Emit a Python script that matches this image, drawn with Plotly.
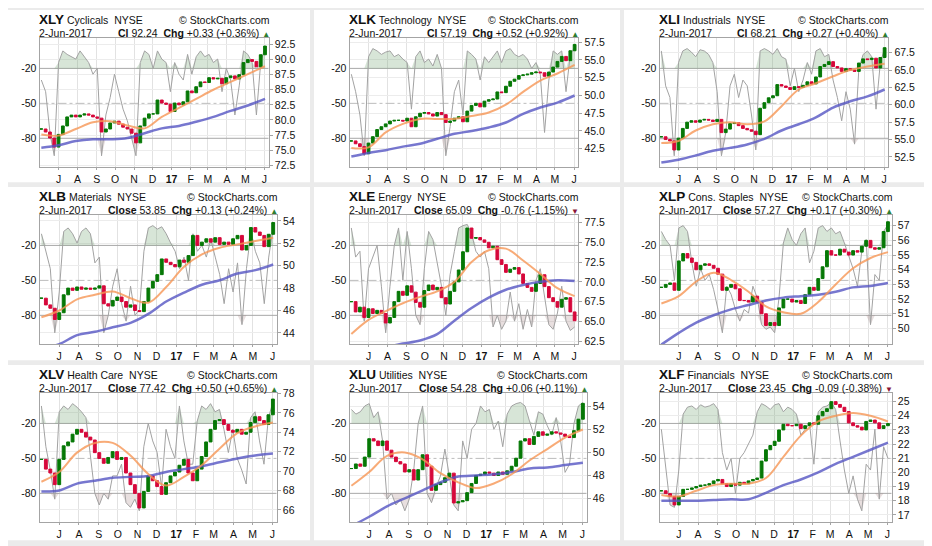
import pandas as pd
import plotly.graph_objects as go

# weekly sampling of the daily charts (Friday closes)
WEEKS = pd.date_range("2016-06-03", "2017-06-02", freq="W-FRI")
MA_DATES = WEEKS[::4]
MONTHS = pd.date_range("2016-07-01", "2017-06-01", freq="MS")
MONTH_LABELS = ["J", "A", "S", "O", "N", "D", "<b>17</b>", "F", "M", "A", "M", "J"]

TICKERS = ["XLY", "XLK", "XLI", "XLB", "XLE", "XLP", "XLV", "XLU", "XLF"]
NAMES = ["Cyclicals", "Technology", "Industrials", "Materials", "Energy",
         "Cons. Staples", "Health Care", "Utilities", "Financials"]
LAST_LABEL = ["Cl", "Cl", "Cl", "Close", "Close", "Close", "Close", "Close", "Close"]
LAST = ["92.24", "57.19", "68.21", "53.85", "65.09", "57.27", "77.42", "54.28", "23.45"]
CHG = ["+0.33 (+0.36%)", "+0.52 (+0.92%)", "+0.27 (+0.40%)", "+0.13 (+0.24%)",
       "-0.76 (-1.15%)", "+0.17 (+0.30%)", "+0.50 (+0.65%)", "+0.06 (+0.11%)",
       "-0.09 (-0.38%)"]

XLY_CLOSE = [78.5, 78.0, 77.0, 75.5, 77.6, 79.0, 80.5, 80.8, 80.5, 80.8,
             81.0, 80.8, 80.5, 80.3, 78.0, 78.5, 79.5, 79.8, 79.3, 78.8,
             78.5, 77.8, 76.2, 79.0, 80.3, 81.0, 81.0, 83.3, 82.8, 82.6,
             81.4, 82.8, 82.5, 83.0, 84.8, 84.5, 85.5, 86.3, 86.2, 87.0,
             86.8, 86.9, 86.0, 87.0, 87.3, 86.8, 87.5, 89.5, 90.0, 89.7,
             88.8, 90.8, 92.24]
XLY_WR = [-30, -40, -75, -95, -15, -5, -8, -10, -12, -5,
          -10, -15, -25, -20, -95, -60, -45, -25, -40, -55,
          -65, -80, -95, -15, -5, -8, -20, -5, -12, -15,
          -40, -15, -25, -30, -8, -25, -10, -5, -10, -8,
          -15, -12, -40, -20, -30, -60, -35, -5, -8, -15,
          -60, -15, -2]
XLY_MA50 = [77.6, 77.4, 78.5, 79.6, 79.8, 79.1, 78.6, 80.5, 82.0, 83.5, 85.0, 86.3, 87.6, 88.9]
XLY_MA200 = [75.4, 75.8, 76.5, 76.8, 76.8, 77.0, 77.8, 78.6, 79.0, 79.7, 80.5, 81.5, 82.4, 83.5]
XLY_TICKS = [72.5, 75.0, 77.5, 80.0, 82.5, 85.0, 87.5, 90.0, 92.5]

XLK_CLOSE = [43.6, 43.2, 42.8, 41.8, 43.3, 44.2, 45.2, 45.6, 46.0, 46.4,
             46.5, 46.5, 46.4, 46.8, 45.6, 47.0, 47.5, 47.6, 47.4, 47.1,
             47.6, 47.3, 46.2, 46.4, 46.8, 47.0, 46.3, 47.8, 48.6, 48.9,
             48.4, 49.2, 49.4, 49.5, 50.5, 50.4, 51.3, 52.0, 52.3, 52.8,
             52.9, 53.0, 53.2, 53.3, 53.2, 52.7, 53.3, 54.0, 54.8, 55.5,
             54.9, 56.3, 57.19]
XLK_WR = [-25, -40, -60, -95, -10, -3, -5, -8, -6, -5,
          -10, -8, -12, -15, -55, -10, -5, -15, -12, -18,
          -8, -20, -95, -70, -40, -30, -60, -5, -8, -12,
          -30, -10, -15, -10, -5, -15, -5, -3, -8, -10,
          -8, -12, -20, -15, -25, -75, -30, -5, -8, -5,
          -40, -8, -2]
XLK_MA50 = [42.6, 42.7, 44.8, 46.0, 46.7, 46.7, 46.7, 47.1, 47.6, 48.7, 50.5, 52.1, 53.1, 54.3]
XLK_MA200 = [41.4, 41.9, 42.3, 42.8, 43.2, 43.9, 44.6, 45.0, 45.5, 46.2, 47.4, 48.3, 49.0, 50.0]
XLK_TICKS = [42.5, 45.0, 47.5, 50.0, 52.5, 55.0, 57.5]

XLI_CLOSE = [55.4, 55.0, 54.8, 53.5, 55.2, 56.6, 57.5, 57.7, 57.5, 57.8,
             57.9, 57.8, 57.6, 57.9, 56.0, 56.5, 57.3, 57.4, 57.0, 56.6,
             56.4, 56.2, 55.7, 59.5, 60.3, 61.0, 61.3, 62.9, 62.7, 62.5,
             62.2, 62.6, 62.5, 62.8, 63.3, 63.0, 64.0, 65.5, 65.8, 66.2,
             65.5, 65.3, 64.8, 65.2, 65.0, 64.8, 66.0, 66.6, 66.5, 66.7,
             65.3, 66.8, 68.21]
XLI_WR = [-5, -35, -45, -95, -15, -5, -3, -6, -10, -4,
          -5, -8, -15, -40, -95, -75, -35, -25, -45, -30,
          -35, -60, -90, -5, -3, -5, -8, -3, -10, -12,
          -35, -20, -40, -30, -15, -25, -5, -3, -10, -8,
          -30, -45, -65, -40, -55, -85, -20, -8, -5, -10,
          -55, -15, -3]
XLI_MA50 = [54.5, 54.8, 56.3, 57.2, 57.5, 57.2, 57.6, 59.8, 62.2, 63.1, 64.1, 65.0, 65.5, 65.9]
XLI_MA200 = [51.7, 52.1, 52.7, 53.4, 53.8, 54.3, 55.1, 56.3, 57.2, 58.2, 59.6, 60.5, 61.2, 62.2]
XLI_TICKS = [52.5, 55.0, 57.5, 60.0, 62.5, 65.0, 67.5]

XLB_CLOSE = [47.1, 46.5, 46.2, 45.2, 45.8, 47.4, 48.0, 47.8, 48.1, 47.9,
             48.0, 47.9, 48.0, 48.2, 46.6, 46.4, 46.9, 47.2, 46.8, 46.3,
             46.5, 46.0, 45.9, 46.8, 48.0, 48.6, 49.2, 50.6, 50.3, 50.1,
             49.9, 50.5, 50.3, 50.9, 52.7, 51.8, 52.1, 52.4, 52.1, 52.5,
             51.9, 52.1, 51.9, 52.4, 52.7, 51.4, 51.8, 53.4, 53.0, 52.7,
             51.7, 52.8, 53.85]
XLB_WR = [-10, -25, -40, -95, -60, -8, -5, -10, -18, -8,
          -5, -10, -35, -30, -95, -80, -55, -40, -70, -85,
          -55, -80, -75, -25, -5, -3, -6, -4, -10, -18,
          -25, -40, -30, -50, -10, -25, -20, -30, -15, -30,
          -45, -70, -40, -60, -35, -88, -40, -8, -25, -35,
          -70, -30, -5]
XLB_MA50 = [45.4, 46.0, 47.0, 47.4, 47.7, 47.1, 46.7, 48.1, 49.9, 51.0, 51.6, 51.9, 52.2, 52.5]
XLB_MA200 = [42.6, 43.0, 43.8, 44.1, 44.5, 44.9, 45.7, 46.8, 47.6, 48.3, 48.7, 49.3, 49.6, 50.1]
XLB_TICKS = [44, 46, 48, 50, 52, 54]

XLE_CLOSE = [67.5, 66.2, 66.8, 65.5, 66.6, 66.0, 66.4, 66.0, 64.8, 65.5,
             67.5, 68.8, 68.3, 69.5, 68.7, 67.4, 66.8, 68.9, 69.6, 69.0,
             69.3, 68.0, 67.2, 68.8, 70.0, 71.5, 73.8, 76.8, 75.5, 75.6,
             75.3, 75.0, 74.3, 74.5, 72.8, 72.2, 71.2, 71.6, 71.8, 71.0,
             69.8, 69.3, 68.8, 69.8, 70.9, 69.4, 68.0, 67.5, 66.8, 67.8,
             68.0, 66.2, 65.09]
XLE_WR = [-5, -30, -25, -85, -40, -30, -20, -55, -95, -55,
          -20, -5, -50, -8, -40, -80, -88, -40, -8, -15,
          -35, -55, -80, -45, -25, -5, -3, -2, -10, -25,
          -30, -25, -40, -90, -80, -92, -85, -60, -85, -70,
          -92, -75, -90, -50, -40, -65, -88, -92, -78, -55,
          -85, -93, -90]
XLE_MA50 = [63.4, 65.2, 66.3, 67.3, 68.1, 68.8, 70.0, 72.5, 74.0, 74.2, 72.7, 71.0, 69.2, 68.2]
XLE_MA200 = [61.2, 61.5, 61.8, 62.2, 62.6, 63.4, 65.1, 66.7, 68.0, 69.0, 69.6, 70.0, 70.2, 70.1]
XLE_TICKS = [62.5, 65.0, 67.5, 70.0, 72.5, 75.0, 77.5]

XLP_CLOSE = [52.8, 53.0, 53.1, 52.6, 54.6, 55.1, 54.8, 54.5, 54.0, 54.3,
             54.4, 54.3, 54.1, 53.7, 52.6, 52.8, 53.0, 52.7, 51.9, 51.9,
             51.8, 52.2, 51.8, 51.0, 50.2, 50.4, 50.2, 51.4, 52.0, 52.0,
             51.8, 51.9, 51.7, 52.3, 52.8, 52.6, 53.4, 54.2, 55.3, 55.0,
             55.0, 55.4, 55.2, 55.0, 55.3, 55.2, 55.6, 56.0, 55.5, 55.4,
             55.5, 56.6, 57.27]
XLP_WR = [-8, -15, -20, -50, -5, -3, -8, -35, -55, -40,
          -50, -45, -58, -75, -95, -55, -62, -75, -85, -75,
          -78, -55, -65, -88, -92, -90, -95, -65, -18, -5,
          -15, -20, -10, -5, -35, -25, -5, -3, -8, -5,
          -10, -8, -18, -30, -40, -55, -25, -15, -88, -45,
          -50, -8, -2]
XLP_MA50 = [51.7, 52.2, 53.2, 53.8, 53.3, 52.5, 51.5, 51.1, 51.0, 51.8, 53.0, 54.1, 54.8, 55.2]
XLP_MA200 = [48.9, 49.7, 50.4, 50.9, 51.3, 51.6, 51.9, 52.1, 52.2, 52.3, 52.5, 52.8, 52.9, 53.1]
XLP_TICKS = [50, 51, 52, 53, 54, 55, 56, 57]

XLV_CLOSE = [71.2, 70.2, 69.8, 68.6, 71.2, 72.6, 73.0, 73.8, 74.3, 74.0,
             73.5, 73.2, 71.9, 71.3, 70.8, 71.4, 72.0, 71.2, 71.4, 69.8,
             68.6, 67.7, 66.2, 67.9, 69.5, 69.0, 68.4, 67.6, 68.8, 69.5,
             69.9, 70.6, 71.2, 69.8, 69.0, 70.2, 71.5, 73.0, 74.3, 75.2,
             75.3, 74.8, 74.2, 74.0, 74.3, 73.8, 74.0, 75.0, 75.6, 75.2,
             74.8, 75.8, 77.42]
XLV_WR = [-5, -40, -60, -85, -10, -5, -8, -3, -6, -10,
          -15, -45, -80, -90, -80, -85, -65, -65, -55, -88,
          -92, -85, -95, -40, -20, -35, -45, -75, -25, -40,
          -50, -5, -35, -55, -55, -18, -5, -8, -3, -10,
          -8, -25, -45, -25, -50, -60, -72, -15, -10, -35,
          -55, -15, -2]
XLV_MA50 = [68.9, 69.9, 71.9, 72.9, 72.9, 71.6, 69.7, 68.5, 69.4, 70.6, 72.3, 73.9, 74.6, 75.0]
XLV_MA200 = [67.9, 68.0, 68.7, 69.0, 69.3, 69.4, 69.5, 69.9, 70.2, 70.5, 70.9, 71.3, 71.6, 71.8]
XLV_TICKS = [66, 68, 70, 72, 74, 76, 78]

XLU_CLOSE = [48.6, 49.0, 48.8, 49.6, 51.2, 51.0, 50.6, 51.0, 50.2, 49.6,
             49.2, 49.0, 48.3, 48.5, 47.6, 48.5, 49.8, 48.8, 46.7, 47.2,
             47.4, 47.8, 48.2, 45.6, 45.7, 45.8, 46.5, 47.3, 48.0, 48.1,
             48.3, 48.2, 48.0, 48.3, 48.1, 48.4, 48.8, 49.5, 51.0, 51.2,
             50.7, 51.4, 51.8, 51.5, 51.6, 51.8, 51.7, 51.6, 51.4, 51.3,
             51.9, 52.9, 54.28]
XLU_WR = [-8, -12, -10, -5, -3, -15, -10, -35, -85, -80,
          -90, -85, -95, -85, -60, -20, -5, -80, -88, -75,
          -65, -42, -65, -90, -95, -35, -50, -25, -20, -5,
          -10, -8, -25, -18, -40, -12, -5, -3, -2, -5,
          -18, -30, -10, -12, -22, -30, -15, -35, -62, -55,
          -20, -5, -2]
XLU_MA50 = [47.1, 48.3, 49.7, 50.0, 49.4, 48.2, 47.4, 46.9, 47.3, 48.1, 49.3, 50.3, 51.3, 52.0]
XLU_MA200 = [43.6, 44.4, 45.3, 46.0, 46.7, 47.4, 47.9, 48.0, 48.1, 48.3, 48.6, 48.7, 48.9, 49.1]
XLU_TICKS = [46, 48, 50, 52, 54]

XLF_CLOSE = [18.7, 18.5, 18.3, 17.7, 18.3, 18.8, 18.8, 18.9, 19.0, 19.1,
             19.1, 19.2, 19.4, 19.5, 19.2, 19.0, 19.2, 19.1, 19.3, 19.2,
             19.4, 19.5, 19.6, 20.8, 21.6, 21.9, 22.2, 23.0, 23.4, 23.3,
             23.3, 23.4, 23.1, 23.3, 23.5, 23.4, 24.0, 24.3, 24.5, 25.0,
             24.8, 24.6, 24.3, 23.5, 23.3, 23.2, 23.0, 23.6, 23.7, 23.5,
             23.1, 23.3, 23.45]
XLF_WR = [-25, -55, -90, -92, -60, -12, -6, -5, -8, -4,
          -6, -5, -3, -8, -45, -60, -50, -80, -50, -45,
          -38, -30, -10, -3, -5, -8, -4, -3, -10, -6,
          -8, -12, -30, -25, -20, -55, -10, -6, -5, -2,
          -8, -35, -60, -80, -65, -85, -95, -55, -60, -25,
          -85, -40, -50]
XLF_MA50 = [18.4, 18.3, 18.7, 19.1, 19.2, 19.2, 19.6, 21.1, 22.6, 23.6, 24.0, 24.2, 24.0, 23.6]
XLF_MA200 = [18.0, 18.0, 18.0, 18.05, 18.1, 18.1, 18.55, 19.1, 19.5, 20.0, 20.6, 21.1, 21.6, 22.1]
XLF_TICKS = [17, 18, 19, 20, 21, 22, 23, 24, 25]

WR_LEVELS = [-20, -50, -80]

CLOSES = [XLY_CLOSE, XLK_CLOSE, XLI_CLOSE, XLB_CLOSE, XLE_CLOSE, XLP_CLOSE, XLV_CLOSE, XLU_CLOSE, XLF_CLOSE]
WILLR = [XLY_WR, XLK_WR, XLI_WR, XLB_WR, XLE_WR, XLP_WR, XLV_WR, XLU_WR, XLF_WR]
MA50 = [XLY_MA50, XLK_MA50, XLI_MA50, XLB_MA50, XLE_MA50, XLP_MA50, XLV_MA50, XLU_MA50, XLF_MA50]
MA200 = [XLY_MA200, XLK_MA200, XLI_MA200, XLB_MA200, XLE_MA200, XLP_MA200, XLV_MA200, XLU_MA200, XLF_MA200]
TICKS = [XLY_TICKS, XLK_TICKS, XLI_TICKS, XLB_TICKS, XLE_TICKS, XLP_TICKS, XLV_TICKS, XLU_TICKS, XLF_TICKS]

# layout, in pixels of the 932x546 reference -----------------------------------
W, H = 932, 546
OFF = 8   # the page body margin shifts the figure by 8px, so pull everything back
COL_X = [4, 314, 624]
COL_W = [306, 306, 304]
ROW_Y = [4, 184, 365]
ROW_H = [175, 176, 178]
PLOT_LEFT, PLOT_TOP, PLOT_BOTTOM = 35.5, 28.5, 160
PLOT_RIGHT = [264.7, 264.3, 264.3, 273, 264.3, 267.7, 272.7, 272.7, 267.7]
PRICE_RANGE = [[72.13, 93.56], [39.87, 58.08], [50.99, 69.59],
               [42.97, 54.51], [62.09, 78.43], [48.91, 57.72],
               [64.70, 78.03], [43.90, 55.17], [16.46, 25.6]]
TICK_FMT = [".1f", ".1f", ".1f", "d", ".1f", "d", "d", "d", "d"]
X_RANGE = ["2016-05-31", "2017-06-08"]

FONT = "Arial, Liberation Sans, sans-serif"
GREEN = "#067806"
RED = "#d6083b"
FILL_OB = "rgba(110,160,110,0.28)"
FILL_OS = "rgba(150,110,110,0.22)"


def px(x):
    return (x - OFF) / W


def py(y):
    return 1 - (y - OFF) / H


def ax_id(prefix, n):
    return prefix if n == 1 else f"{prefix}{n}"


def ax_key(prefix, n):
    return f"{prefix}axis" if n == 1 else f"{prefix}axis{n}"


fig = go.Figure()
shapes = []
annotations = []
layout_axes = {}

for k in range(9):
    col, row = k % 3, k // 3
    x0, y0 = COL_X[col], ROW_Y[row]
    xa = ax_id("x", k + 1)
    yb = ax_id("y", 2 * k + 1)   # williams %R, left
    yp = ax_id("y", 2 * k + 2)   # price, right
    closes, wr = CLOSES[k], WILLR[k]
    if len(closes) != len(WEEKS) or len(wr) != len(WEEKS):
        raise ValueError(TICKERS[k])
    common = dict(hoverinfo="skip", showlegend=False, xaxis=xa)

    # %R reference levels
    for lvl in WR_LEVELS:
        fig.add_trace(go.Scatter(
            x=X_RANGE, y=[lvl, lvl], mode="lines", yaxis=yb,
            line=dict(color="#bcbcbc" if lvl == -50 else "#a8a8a8", width=1,
                      dash="dashdot" if lvl == -50 else "solid"), **common))

    # %R with overbought / oversold shading
    fig.add_trace(go.Scatter(x=WEEKS, y=[-20] * len(WEEKS), mode="lines", line=dict(width=0),
                             yaxis=yb, **common))
    fig.add_trace(go.Scatter(x=WEEKS, y=[max(v, -20) for v in wr], mode="lines", line=dict(width=0),
                             fill="tonexty", fillcolor=FILL_OB, yaxis=yb, **common))
    fig.add_trace(go.Scatter(x=WEEKS, y=[-80] * len(WEEKS), mode="lines", line=dict(width=0),
                             yaxis=yb, **common))
    fig.add_trace(go.Scatter(x=WEEKS, y=[min(v, -80) for v in wr], mode="lines", line=dict(width=0),
                             fill="tonexty", fillcolor=FILL_OS, yaxis=yb, **common))
    fig.add_trace(go.Scatter(x=WEEKS, y=wr, mode="lines", line=dict(color="#a2a2a2", width=1),
                             yaxis=yb, **common))

    # moving averages
    fig.add_trace(go.Scatter(x=MA_DATES, y=MA200[k], mode="lines", line_shape="spline",
                             line=dict(color="rgba(85,85,195,0.8)", width=2.5),
                             yaxis=yp, **common))
    fig.add_trace(go.Scatter(x=MA_DATES, y=MA50[k], mode="lines", line_shape="spline",
                             line=dict(color="rgba(246,150,85,0.8)", width=2),
                             yaxis=yp, **common))

    # weekly candles: each week opens where the previous one closed
    opens = [closes[0]] + closes[:-1]
    fig.add_trace(go.Candlestick(
        x=WEEKS, open=opens, close=closes,
        high=[max(o, c) for o, c in zip(opens, closes)],
        low=[min(o, c) for o, c in zip(opens, closes)],
        increasing=dict(line=dict(color=GREEN, width=1), fillcolor=GREEN),
        decreasing=dict(line=dict(color=RED, width=1), fillcolor=RED),
        whiskerwidth=0, yaxis=yp, **common))

    right = x0 + PLOT_RIGHT[k]
    dom_x = [px(x0 + PLOT_LEFT), px(right)]
    dom_y = [py(y0 + PLOT_BOTTOM), py(y0 + PLOT_TOP)]
    tickfont = dict(family=FONT, size=10.5, color="#111")

    layout_axes[ax_key("x", k + 1)] = dict(
        domain=dom_x, anchor=yb, type="date", range=X_RANGE,
        tickvals=MONTHS, ticktext=MONTH_LABELS, tickfont=tickfont,
        showgrid=True, gridcolor="#e2e2e2", gridwidth=1,
        showline=True, mirror=True, linecolor="#a4a4a4", linewidth=1,
        ticks="outside", ticklen=2, tickcolor="#a4a4a4",
        rangeslider=dict(visible=False), fixedrange=True)
    layout_axes[ax_key("y", 2 * k + 1)] = dict(
        domain=dom_y, anchor=xa, side="left", range=[-105, 6],
        tickvals=WR_LEVELS, ticktext=[str(v) for v in WR_LEVELS], tickfont=tickfont,
        showgrid=False, zeroline=False, showline=True, mirror=True,
        linecolor="#a4a4a4", linewidth=1, ticks="", fixedrange=True)
    layout_axes[ax_key("y", 2 * k + 2)] = dict(
        overlaying=yb, anchor=xa, side="right", range=PRICE_RANGE[k],
        tickvals=TICKS[k], tickformat=TICK_FMT[k], tickfont=tickfont,
        showgrid=True, gridcolor="#ececec", zeroline=False, showline=False,
        ticks="outside", ticklen=3, tickcolor="#a4a4a4", fixedrange=True)

    # panel card
    shapes.append(dict(type="rect", xref="paper", yref="paper", layer="below",
                       x0=px(x0), x1=px(x0 + COL_W[col]), y0=py(y0 + ROW_H[row]), y1=py(y0),
                       fillcolor="white", line=dict(width=0)))

    # header
    small = dict(family=FONT, size=10.5, color="#111")
    annotations.append(dict(
        xref="paper", yref="paper", x=px(x0 + PLOT_LEFT - 2), y=py(y0 + 10),
        xanchor="left", yanchor="middle", showarrow=False, font=small, borderpad=0,
        text=f"<span style='font-size:13.5px'><b>{TICKERS[k]}</b></span> {NAMES[k]}\u00a0\u00a0NYSE"))
    annotations.append(dict(
        xref="paper", yref="paper", x=px(right + 2), y=py(y0 + 10.5),
        xanchor="right", yanchor="middle", showarrow=False, font=small, borderpad=0,
        text="\u00a9\u00a0StockCharts.com"))
    annotations.append(dict(
        xref="paper", yref="paper", x=px(x0 + PLOT_LEFT - 2), y=py(y0 + 23),
        xanchor="left", yanchor="middle", showarrow=False, font=small, borderpad=0,
        text="2-Jun-2017"))
    up = not CHG[k].startswith("-")
    tri = "\u25b2" if up else "\u25bc"
    tri_color = "#2e7d32" if up else "#8b1538"
    annotations.append(dict(
        xref="paper", yref="paper", x=px(right + 2), y=py(y0 + 23),
        xanchor="right", yanchor="middle", showarrow=False, font=small, borderpad=0,
        text=(f"<b>{LAST_LABEL[k]}</b> {LAST[k]}\u00a0\u00a0<b>Chg</b> {CHG[k]} "
              f"<span style='color:{tri_color};font-size:8px'>{tri}</span>")))

fig.update_layout(
    width=W, height=H, autosize=False,
    margin=dict(l=0, r=0, t=0, b=0),
    paper_bgcolor="#ebebeb", plot_bgcolor="white",
    font=dict(family=FONT, size=10.5, color="#111"),
    boxgap=0.08, showlegend=False,
    shapes=shapes, annotations=annotations,
    **layout_axes,
)

fig.write_html("out.html")
